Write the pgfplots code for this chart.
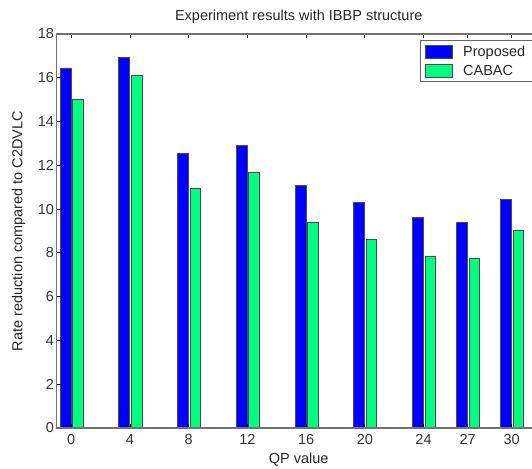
\documentclass[border=0pt]{standalone}
\usepackage{pgfplots}
\pgfplotsset{compat=1.18}
\usepackage{fontspec}
\setmainfont{Liberation Sans}
\definecolor{bblue}{rgb}{0,0,1}
\definecolor{bgreen}{rgb}{0,1,0.5}
\newcommand{\ff}{\fontsize{14.5bp}{17bp}\selectfont}
\begin{document}
\begin{tikzpicture}
\useasboundingbox (0,0) rectangle (532bp,469bp);
\begin{axis}[
  at={(56.5bp,41bp)}, anchor=south west,
  scale only axis, width=484.5bp, height=394bp,
  xmin=-1, xmax=32, ymin=0, ymax=18,
  xtick={0,4,8,12,16,20,24,27,30},
  ytick={0,2,...,18},
  ytick pos=left,
  tick align=inside,
  major tick length=4bp,
  tick style={black, line width=0.8bp},
  axis line style={black!55, line width=1.2bp},
  axis on top,
  tick label style={font=\ff, text=black!80},
  /pgf/number format/assume math mode=true,
  xticklabel style={yshift=-3bp},
  yticklabel style={xshift=1bp},
  title={Experiment results with IBBP structure},
  title style={at={(axis description cs:0.5,1.029)}, anchor=center, font=\ff, text=black!85},
  xlabel={QP value},
  xlabel style={at={(axis description cs:0.5,-0.081)}, anchor=center, font=\ff, text=black!85},
  ylabel={Rate reduction compared to C2DVLC},
  ylabel style={at={(axis description cs:-0.078,0.5)}, anchor=center, font=\ff, text=black!85},
  legend style={at={(axis description cs:0.75,0.985)}, anchor=north west, draw=black!60, line width=1bp, fill=white,
    font=\ff, text=black!85, inner xsep=5bp, inner ysep=3.5bp, row sep=3bp},
  legend cell align=left,
  legend image code/.code={\draw[#1, line width=0.8bp] (0bp,-6.5bp) rectangle (27bp,6.5bp); \path (35bp,0bp);},
]
\addplot[ybar, bar width=0.75, bar shift=-0.38, fill=bblue, draw=black!70, line width=0.8bp]
  coordinates {(0,16.45) (4,16.93) (8,12.55) (12,12.91) (16,11.07) (20,10.29) (24,9.63) (27,9.38) (30,10.45)};
\addlegendentry{Proposed\hspace{20bp}}
\addplot[ybar, bar width=0.72, bar shift=0.46, fill=bgreen, draw=black!70, line width=0.8bp]
  coordinates {(0,15.03) (4,16.13) (8,10.95) (12,11.68) (16,9.40) (20,8.62) (24,7.86) (27,7.75) (30,9.01)};
\addlegendentry{CABAC}
\end{axis}
\end{tikzpicture}
\end{document}
